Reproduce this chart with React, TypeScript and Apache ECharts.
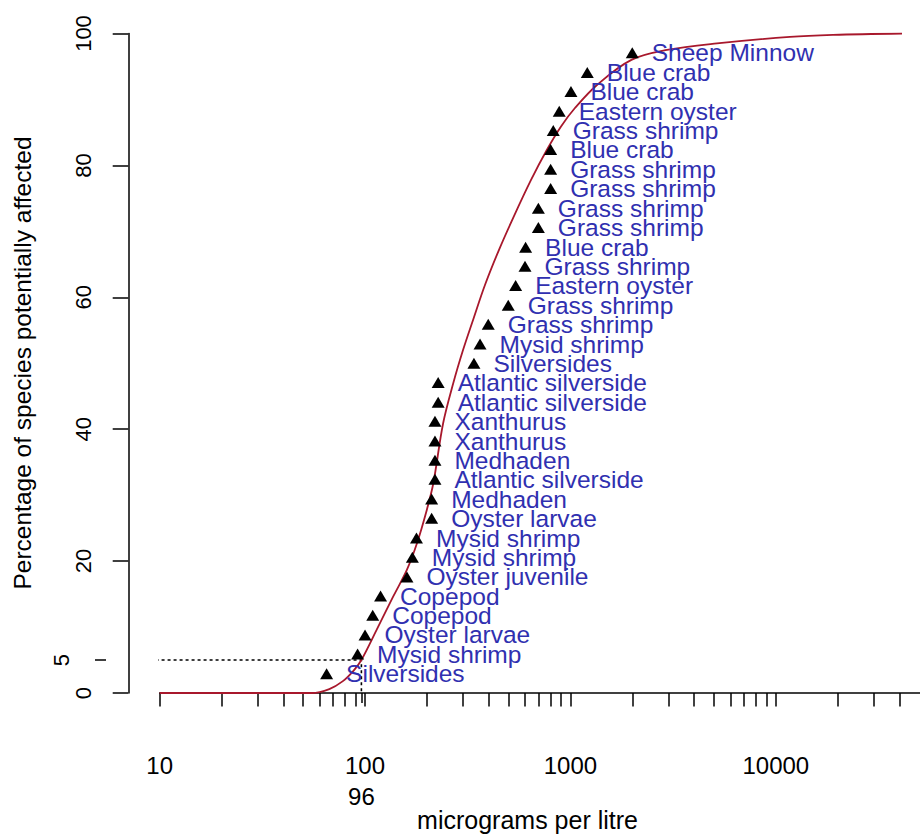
import React, { useEffect, useRef } from "react";
import * as echarts from "echarts";

// Species labels, bottom (most sensitive) to top
const speciesNames = [
  "Silversides", "Mysid shrimp", "Oyster larvae", "Copepod", "Copepod",
  "Oyster juvenile", "Mysid shrimp", "Mysid shrimp", "Oyster larvae", "Medhaden",
  "Atlantic silverside", "Medhaden", "Xanthurus", "Xanthurus", "Atlantic silverside",
  "Atlantic silverside", "Silversides", "Mysid shrimp", "Grass shrimp", "Grass shrimp",
  "Eastern oyster", "Grass shrimp", "Blue crab", "Grass shrimp", "Grass shrimp",
  "Grass shrimp", "Grass shrimp", "Blue crab", "Grass shrimp", "Eastern oyster",
  "Blue crab", "Blue crab", "Sheep Minnow",
];
// Toxicity values (micrograms per litre)
const concentrations = [
  65, 92, 100, 109, 119, 160, 170, 178, 211, 211,
  219, 219, 219, 219, 227, 227, 339, 363, 398, 498,
  541, 601, 605, 698, 698, 801, 801, 801, 825, 882,
  1006, 1208, 2000,
];
// Plotting position (percentage of species)
const percentages = [
  2.9, 5.9, 8.8, 11.8, 14.7, 17.6, 20.6, 23.5, 26.5, 29.4,
  32.4, 35.3, 38.2, 41.2, 44.1, 47.1, 50.0, 52.9, 55.9, 58.8,
  61.8, 64.7, 67.6, 70.6, 73.5, 76.5, 79.4, 82.4, 85.3, 88.2,
  91.2, 94.1, 97.1,
];
// Fitted distribution curve
const curveX = [
  10, 30, 55, 67, 78, 88, 96, 114, 137, 160, 179, 200, 215, 240, 269,
  300, 336, 384, 449, 529, 643, 766, 900, 1052, 1359, 1981, 2952, 5170, 11720, 18980, 41140,
];
const curveY = [
  0, 0, 0, 0.6, 1.8, 3.4, 5.0, 9.6, 14.6, 18.7, 22.7, 27.8, 31.8, 40.9, 47.0,
  52.0, 56.6, 61.9, 67.2, 72.2, 77.8, 82.3, 85.9, 88.7, 92.3, 96.0, 97.5, 98.5, 99.5, 99.8, 100,
];
// HC5
const hc5Value = 96;
const hc5Percent = 5;
const plotLeftValue = 7.3;
// Axis ticks
const xTickValues = [
  10, 20, 30, 40, 50, 60, 70, 80, 90,
  100, 200, 300, 400, 500, 600, 700, 800, 900,
  1000, 2000, 3000, 4000, 5000, 6000, 7000, 8000, 9000,
  10000, 20000, 30000, 40000,
];
const xLabelValues = [10, 100, 1000, 10000];
const xMin = 10;
const xMax = 50350;
const yTickValues = [0, 20, 40, 60, 80, 100];
const yExtraTick = [5];

const FONT = "'Liberation Sans', Arial, sans-serif";
const LOG = (v: number) => Math.log10(v);

export default function App() {
  const ref = useRef<HTMLDivElement>(null);
  useEffect(() => {
    if (!ref.current) return;
    const chart = echarts.init(ref.current, null, { renderer: "svg" });
    const gridLeft = 159.65;
    const yAxisX = 128.3;
    const axisLineStyle = { color: "#000", width: 1.5 };
    const option: any = {
      animation: false,
      textStyle: { fontFamily: FONT },
      grid: { left: gridLeft, right: 0, top: 33.5, bottom: 141, containLabel: false },
      xAxis: [
        {
          type: "value",
          min: LOG(xMin),
          max: LOG(xMax),
          position: "bottom",
          offset: 27.7,
          splitLine: { show: false },
          axisLine: { show: true, lineStyle: axisLineStyle },
          axisTick: {
            show: true,
            length: 13.6,
            customValues: xTickValues.map(LOG),
            lineStyle: axisLineStyle,
          },
          axisLabel: {
            show: true,
            customValues: xLabelValues.map(LOG),
            formatter: (v: number) => String(Math.round(Math.pow(10, v))),
            margin: 33,
            fontSize: 24,
            color: "#000",
            fontFamily: FONT,
          },
        },
        {
          type: "value",
          min: LOG(xMin),
          max: LOG(xMax),
          position: "bottom",
          offset: 56,
          splitLine: { show: false },
          axisLine: { show: false },
          axisTick: {
            show: true,
            length: 10,
            customValues: [LOG(hc5Value)],
            lineStyle: axisLineStyle,
          },
          axisLabel: {
            show: true,
            customValues: [LOG(hc5Value)],
            formatter: (v: number) => String(Math.round(Math.pow(10, v))),
            margin: 35,
            fontSize: 24,
            color: "#000",
            fontFamily: FONT,
          },
        },
      ],
      yAxis: [
        {
          type: "value",
          min: 0,
          max: 100,
          interval: 20,
          position: "left",
          offset: gridLeft - yAxisX,
          splitLine: { show: false },
          axisLine: { show: true, lineStyle: axisLineStyle },
          axisTick: {
            show: true,
            length: 15.6,
            customValues: yTickValues,
            lineStyle: axisLineStyle,
          },
          axisLabel: {
            show: true,
            customValues: yTickValues,
            rotate: 90,
            margin: 34,
            fontSize: 22,
            color: "#000",
            fontFamily: FONT,
          },
        },
        {
          type: "value",
          min: 0,
          max: 100,
          position: "left",
          offset: gridLeft - 106,
          splitLine: { show: false },
          axisLine: { show: false },
          axisTick: {
            show: true,
            length: 11,
            customValues: yExtraTick,
            lineStyle: axisLineStyle,
          },
          axisLabel: {
            show: true,
            customValues: yExtraTick,
            rotate: 90,
            margin: 34,
            fontSize: 22,
            color: "#000",
            fontFamily: FONT,
          },
        },
      ],
      graphic: [
        {
          type: "text",
          x: 22,
          y: 363,
          rotation: Math.PI / 2,
          style: {
            text: "Percentage of species potentially affected",
            fontSize: 24.5,
            fontFamily: FONT,
            fill: "#000",
            align: "center",
            verticalAlign: "middle",
          },
        },
        {
          type: "text",
          x: 527.5,
          y: 820,
          style: {
            text: "micrograms per litre",
            fontSize: 25,
            fontFamily: FONT,
            fill: "#000",
            align: "center",
            verticalAlign: "middle",
          },
        },
      ],
      series: [
        {
          type: "line",
          name: "hc5",
          xAxisIndex: 0,
          yAxisIndex: 0,
          data: [
            [LOG(plotLeftValue), hc5Percent],
            [LOG(hc5Value), hc5Percent],
            [LOG(hc5Value), 0],
          ],
          showSymbol: false,
          symbol: "none",
          clip: false,
          lineStyle: { color: "#000", width: 1.6, type: [3, 3], opacity: 1 },
          z: 1,
        },
        {
          type: "line",
          name: "fit",
          xAxisIndex: 0,
          yAxisIndex: 0,
          data: curveX.map((x, i) => [LOG(x), curveY[i]]),
          smooth: 0.35,
          showSymbol: false,
          symbol: "none",
          lineStyle: { color: "#a8182c", width: 1.8, opacity: 1 },
          z: 2,
        },
        {
          type: "scatter",
          name: "species",
          xAxisIndex: 0,
          yAxisIndex: 0,
          data: concentrations.map((c, i) => [LOG(c), percentages[i]]),
          symbol: "triangle",
          symbolSize: [13, 11],
          itemStyle: { color: "#000", opacity: 1 },
          label: {
            show: true,
            position: "right",
            distance: 13,
            formatter: (p: any) => speciesNames[p.dataIndex],
            color: "#3030b0",
            opacity: 1,
            fontSize: 24.5,
            fontFamily: FONT,
          },
          z: 3,
        },
      ],
    };
    chart.setOption(option);
    return () => chart.dispose();
  }, []);
  return (
    <div
      ref={ref}
      style={{ position: "fixed", left: 0, top: 0, width: 920, height: 834, background: "#fff" }}
    />
  );
}
